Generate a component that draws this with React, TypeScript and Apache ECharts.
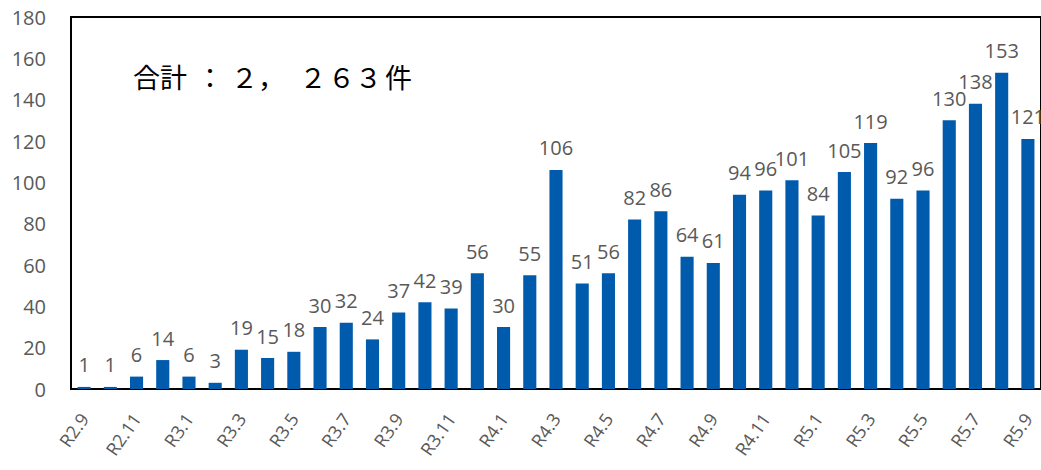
import React, { useEffect, useRef } from "react";
import * as echarts from "echarts";

const categories = [
  "R2.9", "R2.10", "R2.11", "R2.12",
  "R3.1", "R3.2", "R3.3", "R3.4", "R3.5", "R3.6", "R3.7", "R3.8", "R3.9", "R3.10", "R3.11", "R3.12",
  "R4.1", "R4.2", "R4.3", "R4.4", "R4.5", "R4.6", "R4.7", "R4.8", "R4.9", "R4.10", "R4.11", "R4.12",
  "R5.1", "R5.2", "R5.3", "R5.4", "R5.5", "R5.6", "R5.7", "R5.8", "R5.9",
];
const counts = [
  1, 1, 6, 14,
  6, 3, 19, 15, 18, 30, 32, 24, 37, 42, 39, 56,
  30, 55, 106, 51, 56, 82, 86, 64, 61, 94, 96, 101,
  84, 105, 119, 92, 96, 130, 138, 153, 121,
];
const totalParts = ["合計", "：", "２，", "２", "６３", "件"];
const totalPartX = [160, 210, 258, 313, 355, 398.5];

export default function App() {
  const ref = useRef<HTMLDivElement>(null);
  useEffect(() => {
    if (!ref.current) return;
    const chart = echarts.init(ref.current, null, { renderer: "svg" });
    const font = "'Open Sans', 'Noto Sans', sans-serif";
    chart.setOption({
      animation: false,
      grid: {
        left: 71,
        top: 17,
        width: 971,
        height: 372,
        show: true,
        borderColor: "#000",
        borderWidth: 2,
        containLabel: false,
      },
      graphic: totalParts.map((c, i) => ({
        type: "text",
        x: totalPartX[i],
        y: 76,
        style: {
          text: c,
          fontSize: 27,
          fill: "#000",
          align: "center",
          verticalAlign: "middle",
          fontFamily: "'Noto Sans CJK JP', sans-serif",
        },
      })),
      xAxis: {
        type: "category",
        data: categories,
        axisLine: { show: true, lineStyle: { color: "#000", width: 2 } },
        axisTick: { show: false },
        axisLabel: {
          interval: 1,
          rotate: 55,
          fontSize: 18,
          color: "#595959",
          fontFamily: font,
          margin: 26,
        },
      },
      yAxis: {
        type: "value",
        min: 0,
        max: 180,
        interval: 20,
        axisLine: { show: true, lineStyle: { color: "#000", width: 2 } },
        axisTick: { show: false },
        splitLine: { show: false },
        axisLabel: {
          fontSize: 20,
          color: "#595959",
          fontFamily: font,
          margin: 25,
        },
      },
      series: [
        {
          type: "bar",
          data: counts,
          barWidth: "50%",
          itemStyle: { color: "#005BAC" },
          label: {
            show: true,
            position: "top",
            distance: 12,
            fontSize: 20,
            color: "#595959",
            fontFamily: font,
          },
        },
      ],
    });
    return () => chart.dispose();
  }, []);
  return (
    <div
      ref={ref}
      style={{ position: "absolute", left: 0, top: 0, width: 1041, height: 470 }}
    />
  );
}
